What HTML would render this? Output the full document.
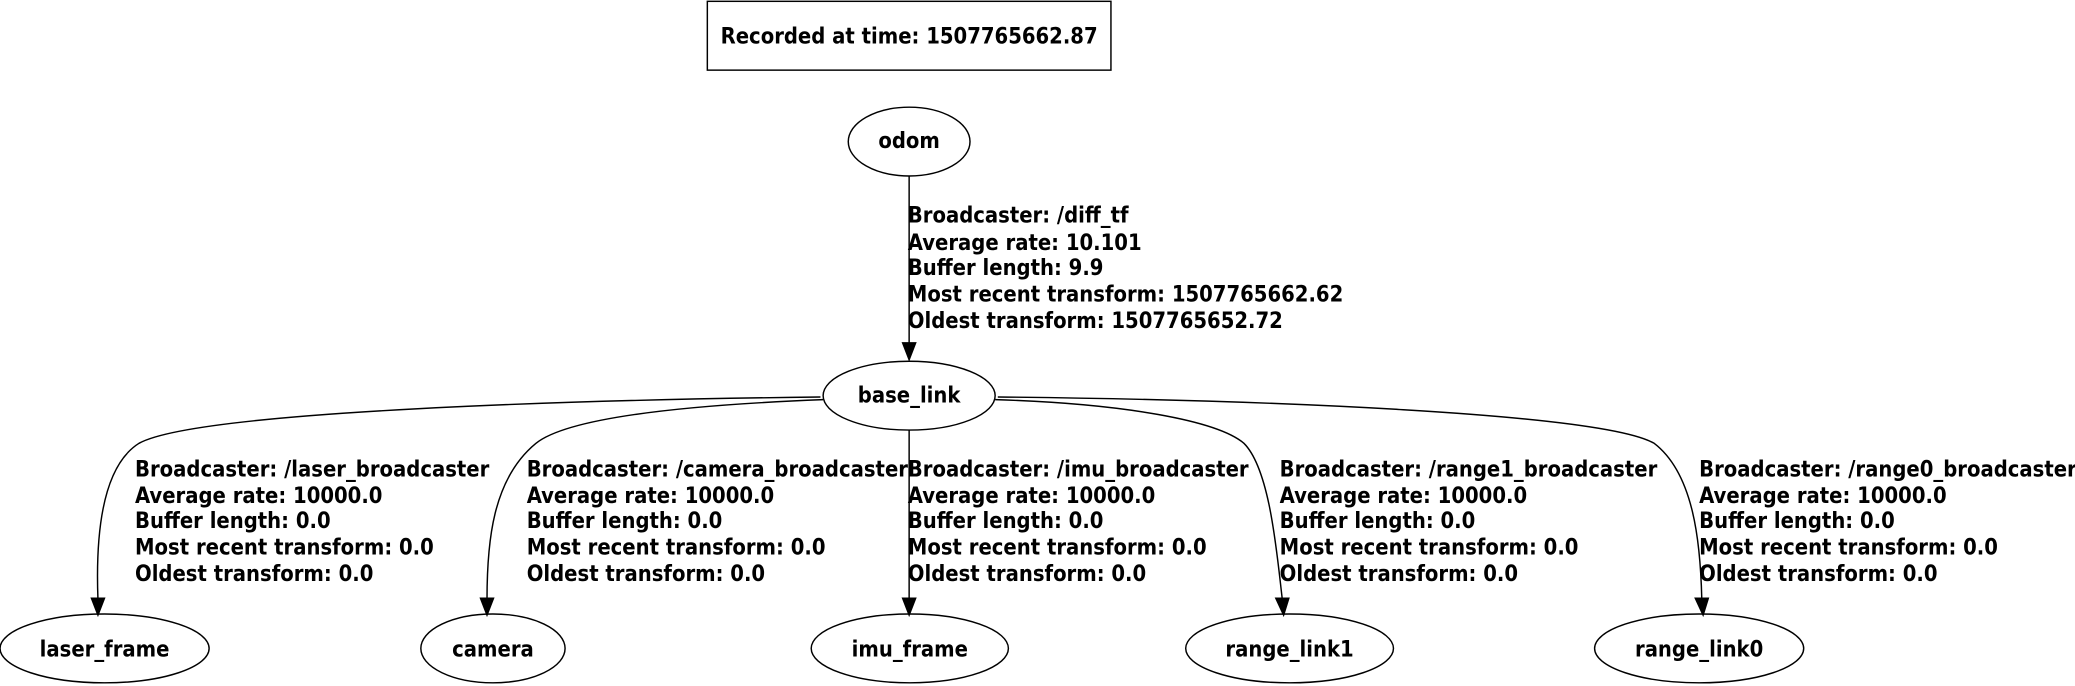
<!DOCTYPE html>
<html><head><meta charset="utf-8"><style>
html,body{margin:0;padding:0;background:#fff;}
svg{display:block;}
text{font-family:"DejaVu Sans","Liberation Sans",sans-serif;font-weight:bold;font-stretch:condensed;font-size:16.5px;fill:#000;}
</style></head><body>
<svg width="2075" height="686" viewBox="0 0 1568 518.4" xmlns="http://www.w3.org/2000/svg">
<g fill="none" stroke="#000" stroke-width="1.1">
<rect x="534.5" y="1" width="305" height="52"/>
<ellipse cx="687" cy="107" rx="46" ry="26"/>
<ellipse cx="687" cy="299" rx="65" ry="26"/>
<ellipse cx="79" cy="490" rx="79" ry="26"/>
<ellipse cx="372.5" cy="490" rx="54.5" ry="26"/>
<ellipse cx="687.5" cy="490" rx="74.5" ry="26"/>
<ellipse cx="974.5" cy="490" rx="78.5" ry="26"/>
<ellipse cx="1284" cy="490" rx="79" ry="26"/>
<path d="M687,133 L687,260"/>
<path d="M620,300 C450,302 150,310 105,335 C78,352 72,400 74,453"/>
<path d="M622,302 C520,306 430,315 405,335 C372,362 368,410 368,453"/>
<path d="M687,325 L687,453"/>
<path d="M752,302 C850,305 920,318 940,335 C960,355 965,420 969,453"/>
<path d="M754,300 C950,302 1210,312 1250,335 C1280,358 1285,410 1286,453"/>
</g>
<g fill="#000" stroke="#000" stroke-width="1">
<path d="M682,259 L692,259 L687,272 Z"/>
<path d="M69,452 L79,452 L74,465 Z"/>
<path d="M363,452 L373,452 L368,465 Z"/>
<path d="M682,452 L692,452 L687,465 Z"/>
<path d="M964,452 L974,452 L970,465 Z"/>
<path d="M1281,452 L1291,452 L1287,465 Z"/>
</g>
<text x="687" y="33" text-anchor="middle">Recorded at time: 1507765662.87</text>
<text x="687" y="112" text-anchor="middle">odom</text>
<text x="687" y="304" text-anchor="middle">base_link</text>
<text x="79" y="496" text-anchor="middle">laser_frame</text>
<text x="372.5" y="496" text-anchor="middle">camera</text>
<text x="687.5" y="496" text-anchor="middle">imu_frame</text>
<text x="974.5" y="496" text-anchor="middle">range_link1</text>
<text x="1284" y="496" text-anchor="middle">range_link0</text>
<text x="686" y="168">Broadcaster: /diff_tf</text>
<text x="686" y="189">Average rate: 10.101</text>
<text x="686" y="208">Buffer length: 9.9</text>
<text x="686" y="228">Most recent transform: 1507765662.62</text>
<text x="686" y="248">Oldest transform: 1507765652.72</text>
<g>
<text x="102" y="360">Broadcaster: /laser_broadcaster</text>
<text x="102" y="380">Average rate: 10000.0</text>
<text x="102" y="399">Buffer length: 0.0</text>
<text x="102" y="419">Most recent transform: 0.0</text>
<text x="102" y="439">Oldest transform: 0.0</text>
<text x="398" y="360">Broadcaster: /camera_broadcaster</text>
<text x="398" y="380">Average rate: 10000.0</text>
<text x="398" y="399">Buffer length: 0.0</text>
<text x="398" y="419">Most recent transform: 0.0</text>
<text x="398" y="439">Oldest transform: 0.0</text>
<text x="686" y="360">Broadcaster: /imu_broadcaster</text>
<text x="686" y="380">Average rate: 10000.0</text>
<text x="686" y="399">Buffer length: 0.0</text>
<text x="686" y="419">Most recent transform: 0.0</text>
<text x="686" y="439">Oldest transform: 0.0</text>
<text x="967" y="360">Broadcaster: /range1_broadcaster</text>
<text x="967" y="380">Average rate: 10000.0</text>
<text x="967" y="399">Buffer length: 0.0</text>
<text x="967" y="419">Most recent transform: 0.0</text>
<text x="967" y="439">Oldest transform: 0.0</text>
<text x="1284" y="360">Broadcaster: /range0_broadcaster</text>
<text x="1284" y="380">Average rate: 10000.0</text>
<text x="1284" y="399">Buffer length: 0.0</text>
<text x="1284" y="419">Most recent transform: 0.0</text>
<text x="1284" y="439">Oldest transform: 0.0</text>
</g>
</svg>
</body></html>
